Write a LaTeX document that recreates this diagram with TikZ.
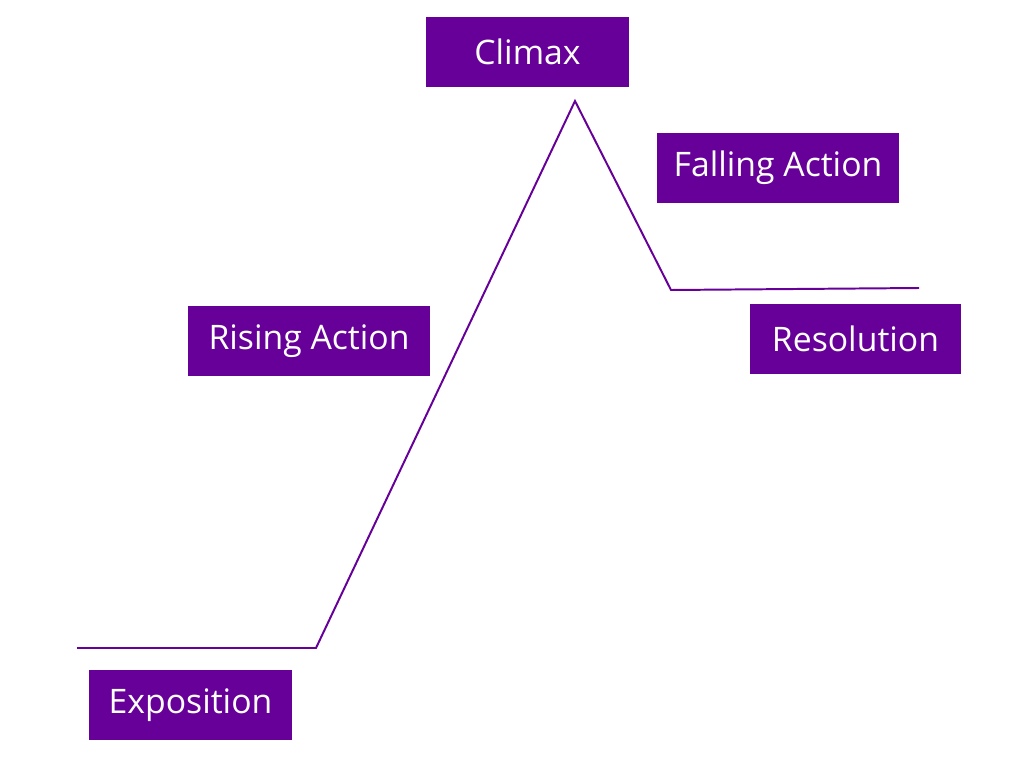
\documentclass[tikz,border=0pt]{standalone}
\usepackage{fontspec}
\setmainfont{Open Sans}
\usepackage{xcolor}
\definecolor{plotpurple}{HTML}{660099}
\usetikzlibrary{positioning}

\begin{document}
\begin{tikzpicture}[
    x=0.025cm, y=-0.025cm,
    font=\fontsize{24}{28}\selectfont,
    stage/.style={fill=plotpurple, text=white, minimum height=1.75cm,
                  inner sep=0pt, anchor=center},
    plot/.style={draw=plotpurple, line width=1.4pt, line join=miter}]
    \useasboundingbox (0,0) rectangle (1024,768);
    % the plot line
    \coordinate (start)  at (77,648);
    \coordinate (rise)   at (316,648);
    \coordinate (peak)   at (575,101);
    \coordinate (fall)   at (671,290);
    \coordinate (finish) at (919,288);
    \draw[plot] (start) -- (rise) -- (peak) -- (fall) -- (finish);
    % stage labels
    \node[stage, minimum width=5.075cm] (cli) at (527.5,52)  {Climax};
    \node[stage, minimum width=6.05cm]  (fal) at (778,168)   {Falling Action};
    \node[stage, minimum width=6.05cm]  (ris) at (309,341)   {Rising Action};
    \node[stage, minimum width=5.275cm] (res) at (855.5,339) {Resolution};
    \node[stage, minimum width=5.075cm] (exp) at (190.5,705) {Exposition};
\end{tikzpicture}
\end{document}
